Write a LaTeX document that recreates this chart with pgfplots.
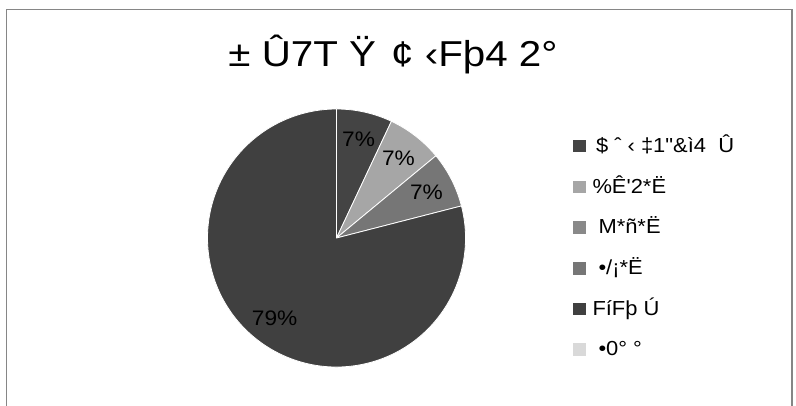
\documentclass[border=0pt]{standalone}
\usepackage{pgfplots}
\pgfplotsset{compat=1.18}
\usepackage{pgfplotstable}
\usepackage{fontspec}
\setmainfont{Liberation Sans}
\newfontfamily\lsans{Liberation Sans}[FakeStretch=1.08]
\newfontfamily\tsans{Liberation Sans}[FakeStretch=1.12]
\definecolor{c1}{HTML}{444444}
\definecolor{c2}{HTML}{A6A6A6}
\definecolor{c3}{HTML}{898989}
\definecolor{c4}{HTML}{767676}
\definecolor{c5}{HTML}{404040}
\definecolor{c6}{HTML}{D9D9D9}
\definecolor{framec}{HTML}{868686}
\newcommand\lbl{\lsans\fontsize{21}{24}\selectfont}
\pgfplotstableread{
value col
7 c1
7 c2
0 c3
7 c4
79 c5
0 c6
}\piedata
\begin{document}
\begin{tikzpicture}
\begin{axis}[width=796pt,height=406pt,scale only axis,
  xmin=0,xmax=796,ymin=0,ymax=406,hide axis,clip=false,
  legend image code/.code={\fill[#1,draw=none] (0pt,0pt) rectangle (13pt,12.5pt);},
  legend style={at={(axis cs:573,270.5)},anchor=north west,draw=none,fill=none,
    inner sep=0pt,outer sep=0pt,row sep=20.2pt,column sep=4.5pt,
    cells={anchor=base west,inner sep=0pt,outer sep=0pt,text height=15pt,text depth=5pt,
      font=\lsans\fontsize{20.3}{24}\selectfont}},
]
\path (axis cs:0,0) rectangle (axis cs:796,406);
\draw[overlay,line width=1.2pt,color=framec] (axis cs:6.5,-20) -- (axis cs:6.5,396.5) -- (axis cs:792,396.5) -- (axis cs:792,-20);
\node[anchor=base,font=\tsans\fontsize{36}{40}\selectfont] at (axis cs:393,339.3) {± Û7T Ÿ\hspace{4pt} ¢ ‹Fþ4 2°};
% slices
\def\startang{90}
\pgfplotsforeachungrouped \i in {0,...,5}{%
  \pgfplotstablegetelem{\i}{value}\of\piedata \let\pv\pgfplotsretval
  \pgfplotstablegetelem{\i}{col}\of\piedata \let\pc\pgfplotsretval
  \pgfmathsetmacro\endang{\startang-3.6*\pv}%
  \ifdim\pv pt>0pt
    \edef\cmd{\noexpand\fill[fill=\pc,draw=white,line width=0.8pt,line join=round] (axis cs:336.5,168) -- ++(\startang:129pt) arc[start angle=\startang,end angle=\endang,radius=129pt] -- cycle;}%
    \cmd
  \fi
  \global\let\startang\endang
}
% labels
\def\startang{90}
\pgfplotsforeachungrouped \i in {0,...,5}{%
  \pgfplotstablegetelem{\i}{value}\of\piedata \let\pv\pgfplotsretval
  \pgfmathsetmacro\endang{\startang-3.6*\pv}%
  \pgfmathsetmacro\lx{336.5+101*cos((\startang+\endang)/2)}%
  \pgfmathsetmacro\ly{168+101*sin((\startang+\endang)/2)}%
  \ifdim\pv pt>0pt
    \edef\cmd{\noexpand\node[font=\noexpand\lbl,inner sep=0pt] at (axis cs:\lx,\ly) {\pv\noexpand\%};}%
    \cmd
  \fi
  \global\let\startang\endang
}
\addlegendimage{fill=c1}\addlegendentry{\hspace{3.5pt}\$ ˆ ‹ ‡1"\&ì4\ \ Û}
\addlegendimage{fill=c2}\addlegendentry{\%Ê'2*Ë}
\addlegendimage{fill=c3}\addlegendentry{\hspace{6pt}M*ñ*Ë}
\addlegendimage{fill=c4}\addlegendentry{\hspace{6pt}•/¡*Ë}
\addlegendimage{fill=c5}\addlegendentry{FíFþ Ú}
\addlegendimage{fill=c6}\addlegendentry{\hspace{6pt}•0° °}
\end{axis}
\end{tikzpicture}
\end{document}
